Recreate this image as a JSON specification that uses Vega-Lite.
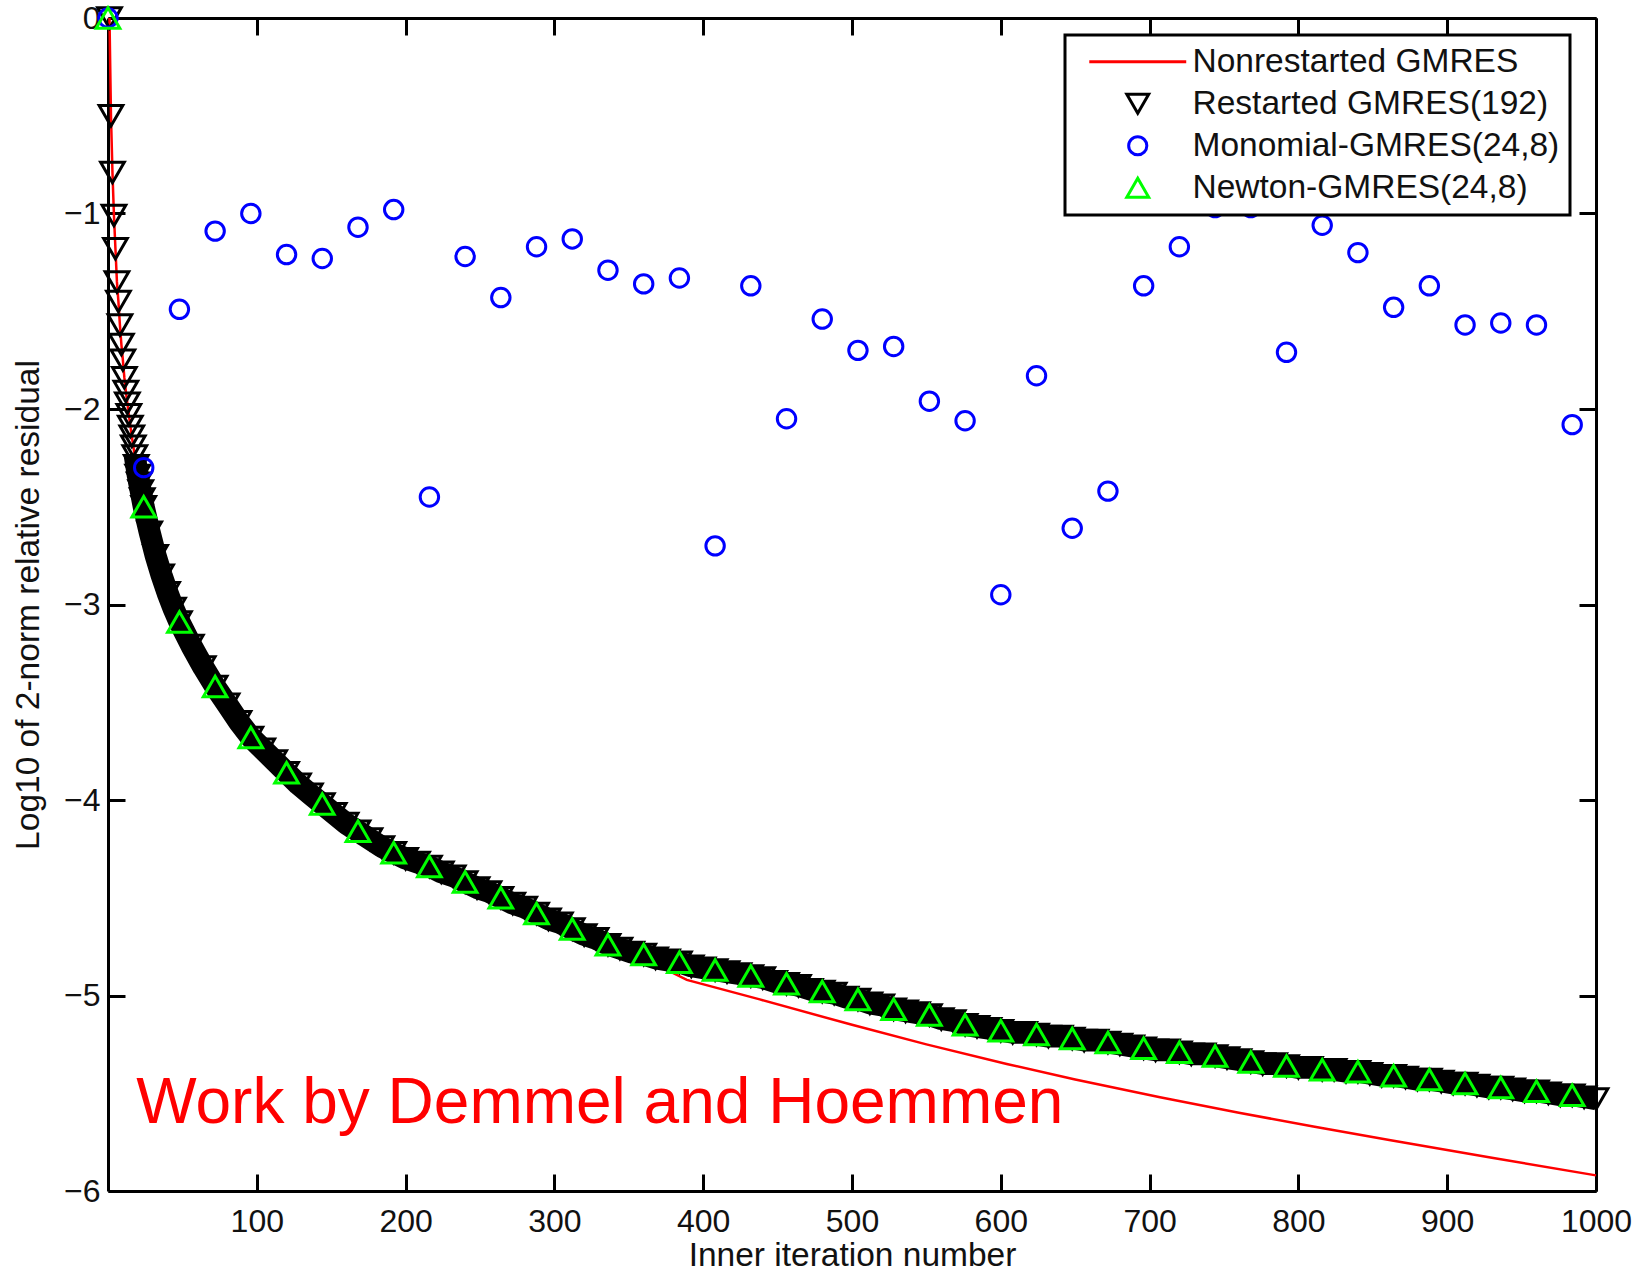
{
  "$schema": "https://vega.github.io/schema/vega-lite/v6.json",
  "width": 1488,
  "height": 1173,
  "autosize": "none",
  "padding": {"left": 108, "top": 18, "right": 49, "bottom": 84},
  "background": "white",
  "config": {
    "view": {"stroke": null},
    "font": "Liberation Sans",
    "axis": {
      "grid": false,
      "domainColor": "#000",
      "domainWidth": 3,
      "tickColor": "#000",
      "tickWidth": 3,
      "tickSize": -17,
      "labelFont": "Liberation Sans",
      "labelFontSize": 32,
      "labelColor": "#111",
      "titleFont": "Liberation Sans",
      "titleFontSize": 33.5,
      "titleFontWeight": "normal",
      "titleColor": "#111",
      "labelOverlap": false,
      "labelFlush": false,
      "labelBound": false
    }
  },
  "datasets": {
    "red": [
      {"s": "Nonrestarted GMRES", "it": 1, "res": 0},
      {"s": "Nonrestarted GMRES", "it": 2, "res": -0.5},
      {"s": "Nonrestarted GMRES", "it": 3, "res": -0.79},
      {"s": "Nonrestarted GMRES", "it": 4, "res": -1.01},
      {"s": "Nonrestarted GMRES", "it": 5, "res": -1.18},
      {"s": "Nonrestarted GMRES", "it": 6, "res": -1.35},
      {"s": "Nonrestarted GMRES", "it": 7, "res": -1.45},
      {"s": "Nonrestarted GMRES", "it": 8, "res": -1.57},
      {"s": "Nonrestarted GMRES", "it": 9, "res": -1.67},
      {"s": "Nonrestarted GMRES", "it": 10, "res": -1.75},
      {"s": "Nonrestarted GMRES", "it": 11, "res": -1.84},
      {"s": "Nonrestarted GMRES", "it": 12, "res": -1.91},
      {"s": "Nonrestarted GMRES", "it": 14, "res": -2.03},
      {"s": "Nonrestarted GMRES", "it": 16, "res": -2.14},
      {"s": "Nonrestarted GMRES", "it": 18, "res": -2.24},
      {"s": "Nonrestarted GMRES", "it": 20, "res": -2.34},
      {"s": "Nonrestarted GMRES", "it": 22, "res": -2.42},
      {"s": "Nonrestarted GMRES", "it": 24, "res": -2.5},
      {"s": "Nonrestarted GMRES", "it": 28, "res": -2.63},
      {"s": "Nonrestarted GMRES", "it": 32, "res": -2.75},
      {"s": "Nonrestarted GMRES", "it": 40, "res": -2.94},
      {"s": "Nonrestarted GMRES", "it": 48, "res": -3.09},
      {"s": "Nonrestarted GMRES", "it": 60, "res": -3.27},
      {"s": "Nonrestarted GMRES", "it": 72, "res": -3.42},
      {"s": "Nonrestarted GMRES", "it": 96, "res": -3.68},
      {"s": "Nonrestarted GMRES", "it": 120, "res": -3.86},
      {"s": "Nonrestarted GMRES", "it": 144, "res": -4.02},
      {"s": "Nonrestarted GMRES", "it": 168, "res": -4.16},
      {"s": "Nonrestarted GMRES", "it": 192, "res": -4.27},
      {"s": "Nonrestarted GMRES", "it": 216, "res": -4.34},
      {"s": "Nonrestarted GMRES", "it": 240, "res": -4.42},
      {"s": "Nonrestarted GMRES", "it": 264, "res": -4.5},
      {"s": "Nonrestarted GMRES", "it": 288, "res": -4.58},
      {"s": "Nonrestarted GMRES", "it": 312, "res": -4.66},
      {"s": "Nonrestarted GMRES", "it": 336, "res": -4.74},
      {"s": "Nonrestarted GMRES", "it": 360, "res": -4.81},
      {"s": "Nonrestarted GMRES", "it": 389, "res": -4.92},
      {"s": "Nonrestarted GMRES", "it": 438, "res": -5.02},
      {"s": "Nonrestarted GMRES", "it": 500, "res": -5.15},
      {"s": "Nonrestarted GMRES", "it": 550, "res": -5.25},
      {"s": "Nonrestarted GMRES", "it": 604, "res": -5.35},
      {"s": "Nonrestarted GMRES", "it": 650, "res": -5.43},
      {"s": "Nonrestarted GMRES", "it": 707, "res": -5.52},
      {"s": "Nonrestarted GMRES", "it": 760, "res": -5.6},
      {"s": "Nonrestarted GMRES", "it": 810, "res": -5.67},
      {"s": "Nonrestarted GMRES", "it": 862, "res": -5.74},
      {"s": "Nonrestarted GMRES", "it": 930, "res": -5.83},
      {"s": "Nonrestarted GMRES", "it": 1000, "res": -5.92}
    ],
    "black": [
      {"s": "Restarted GMRES(192)", "it": 1, "res": 0},
      {"s": "Restarted GMRES(192)", "it": 2, "res": -0.5},
      {"s": "Restarted GMRES(192)", "it": 3, "res": -0.79},
      {"s": "Restarted GMRES(192)", "it": 4, "res": -1.01},
      {"s": "Restarted GMRES(192)", "it": 5, "res": -1.18},
      {"s": "Restarted GMRES(192)", "it": 6, "res": -1.35},
      {"s": "Restarted GMRES(192)", "it": 7, "res": -1.45},
      {"s": "Restarted GMRES(192)", "it": 8, "res": -1.57},
      {"s": "Restarted GMRES(192)", "it": 9, "res": -1.67},
      {"s": "Restarted GMRES(192)", "it": 10, "res": -1.75},
      {"s": "Restarted GMRES(192)", "it": 11, "res": -1.84},
      {"s": "Restarted GMRES(192)", "it": 12, "res": -1.91},
      {"s": "Restarted GMRES(192)", "it": 13, "res": -1.97},
      {"s": "Restarted GMRES(192)", "it": 14, "res": -2.03},
      {"s": "Restarted GMRES(192)", "it": 15, "res": -2.09},
      {"s": "Restarted GMRES(192)", "it": 16, "res": -2.14},
      {"s": "Restarted GMRES(192)", "it": 17, "res": -2.19},
      {"s": "Restarted GMRES(192)", "it": 18, "res": -2.24},
      {"s": "Restarted GMRES(192)", "it": 19, "res": -2.29},
      {"s": "Restarted GMRES(192)", "it": 20, "res": -2.34},
      {"s": "Restarted GMRES(192)", "it": 21, "res": -2.38},
      {"s": "Restarted GMRES(192)", "it": 22, "res": -2.42},
      {"s": "Restarted GMRES(192)", "it": 23, "res": -2.46},
      {"s": "Restarted GMRES(192)", "it": 24, "res": -2.5},
      {"s": "Restarted GMRES(192)", "it": 28, "res": -2.63},
      {"s": "Restarted GMRES(192)", "it": 32, "res": -2.75},
      {"s": "Restarted GMRES(192)", "it": 36, "res": -2.85},
      {"s": "Restarted GMRES(192)", "it": 40, "res": -2.94},
      {"s": "Restarted GMRES(192)", "it": 44, "res": -3.02},
      {"s": "Restarted GMRES(192)", "it": 48, "res": -3.09},
      {"s": "Restarted GMRES(192)", "it": 56, "res": -3.21},
      {"s": "Restarted GMRES(192)", "it": 64, "res": -3.32},
      {"s": "Restarted GMRES(192)", "it": 72, "res": -3.42},
      {"s": "Restarted GMRES(192)", "it": 80, "res": -3.51},
      {"s": "Restarted GMRES(192)", "it": 88, "res": -3.6},
      {"s": "Restarted GMRES(192)", "it": 96, "res": -3.68},
      {"s": "Restarted GMRES(192)", "it": 104, "res": -3.74},
      {"s": "Restarted GMRES(192)", "it": 112, "res": -3.8},
      {"s": "Restarted GMRES(192)", "it": 120, "res": -3.86},
      {"s": "Restarted GMRES(192)", "it": 128, "res": -3.92},
      {"s": "Restarted GMRES(192)", "it": 136, "res": -3.97},
      {"s": "Restarted GMRES(192)", "it": 144, "res": -4.02},
      {"s": "Restarted GMRES(192)", "it": 152, "res": -4.07},
      {"s": "Restarted GMRES(192)", "it": 160, "res": -4.12},
      {"s": "Restarted GMRES(192)", "it": 168, "res": -4.16},
      {"s": "Restarted GMRES(192)", "it": 176, "res": -4.2},
      {"s": "Restarted GMRES(192)", "it": 184, "res": -4.24},
      {"s": "Restarted GMRES(192)", "it": 192, "res": -4.27},
      {"s": "Restarted GMRES(192)", "it": 200, "res": -4.3},
      {"s": "Restarted GMRES(192)", "it": 208, "res": -4.32},
      {"s": "Restarted GMRES(192)", "it": 216, "res": -4.34},
      {"s": "Restarted GMRES(192)", "it": 224, "res": -4.37},
      {"s": "Restarted GMRES(192)", "it": 232, "res": -4.39},
      {"s": "Restarted GMRES(192)", "it": 240, "res": -4.42},
      {"s": "Restarted GMRES(192)", "it": 248, "res": -4.45},
      {"s": "Restarted GMRES(192)", "it": 256, "res": -4.47},
      {"s": "Restarted GMRES(192)", "it": 264, "res": -4.5},
      {"s": "Restarted GMRES(192)", "it": 272, "res": -4.53},
      {"s": "Restarted GMRES(192)", "it": 280, "res": -4.55},
      {"s": "Restarted GMRES(192)", "it": 288, "res": -4.58},
      {"s": "Restarted GMRES(192)", "it": 296, "res": -4.61},
      {"s": "Restarted GMRES(192)", "it": 304, "res": -4.63},
      {"s": "Restarted GMRES(192)", "it": 312, "res": -4.66},
      {"s": "Restarted GMRES(192)", "it": 320, "res": -4.69},
      {"s": "Restarted GMRES(192)", "it": 328, "res": -4.71},
      {"s": "Restarted GMRES(192)", "it": 336, "res": -4.74},
      {"s": "Restarted GMRES(192)", "it": 344, "res": -4.76},
      {"s": "Restarted GMRES(192)", "it": 352, "res": -4.78},
      {"s": "Restarted GMRES(192)", "it": 360, "res": -4.79},
      {"s": "Restarted GMRES(192)", "it": 368, "res": -4.81},
      {"s": "Restarted GMRES(192)", "it": 376, "res": -4.82},
      {"s": "Restarted GMRES(192)", "it": 384, "res": -4.83},
      {"s": "Restarted GMRES(192)", "it": 392, "res": -4.85},
      {"s": "Restarted GMRES(192)", "it": 400, "res": -4.86},
      {"s": "Restarted GMRES(192)", "it": 408, "res": -4.87},
      {"s": "Restarted GMRES(192)", "it": 416, "res": -4.88},
      {"s": "Restarted GMRES(192)", "it": 424, "res": -4.89},
      {"s": "Restarted GMRES(192)", "it": 432, "res": -4.9},
      {"s": "Restarted GMRES(192)", "it": 440, "res": -4.91},
      {"s": "Restarted GMRES(192)", "it": 448, "res": -4.93},
      {"s": "Restarted GMRES(192)", "it": 456, "res": -4.94},
      {"s": "Restarted GMRES(192)", "it": 464, "res": -4.95},
      {"s": "Restarted GMRES(192)", "it": 472, "res": -4.97},
      {"s": "Restarted GMRES(192)", "it": 480, "res": -4.98},
      {"s": "Restarted GMRES(192)", "it": 488, "res": -4.99},
      {"s": "Restarted GMRES(192)", "it": 496, "res": -5.01},
      {"s": "Restarted GMRES(192)", "it": 504, "res": -5.02},
      {"s": "Restarted GMRES(192)", "it": 512, "res": -5.04},
      {"s": "Restarted GMRES(192)", "it": 520, "res": -5.05},
      {"s": "Restarted GMRES(192)", "it": 528, "res": -5.07},
      {"s": "Restarted GMRES(192)", "it": 536, "res": -5.08},
      {"s": "Restarted GMRES(192)", "it": 544, "res": -5.09},
      {"s": "Restarted GMRES(192)", "it": 552, "res": -5.1},
      {"s": "Restarted GMRES(192)", "it": 560, "res": -5.12},
      {"s": "Restarted GMRES(192)", "it": 568, "res": -5.13},
      {"s": "Restarted GMRES(192)", "it": 576, "res": -5.15},
      {"s": "Restarted GMRES(192)", "it": 584, "res": -5.16},
      {"s": "Restarted GMRES(192)", "it": 592, "res": -5.17},
      {"s": "Restarted GMRES(192)", "it": 600, "res": -5.18},
      {"s": "Restarted GMRES(192)", "it": 608, "res": -5.19},
      {"s": "Restarted GMRES(192)", "it": 616, "res": -5.19},
      {"s": "Restarted GMRES(192)", "it": 624, "res": -5.2},
      {"s": "Restarted GMRES(192)", "it": 632, "res": -5.21},
      {"s": "Restarted GMRES(192)", "it": 640, "res": -5.21},
      {"s": "Restarted GMRES(192)", "it": 648, "res": -5.22},
      {"s": "Restarted GMRES(192)", "it": 656, "res": -5.23},
      {"s": "Restarted GMRES(192)", "it": 664, "res": -5.23},
      {"s": "Restarted GMRES(192)", "it": 672, "res": -5.24},
      {"s": "Restarted GMRES(192)", "it": 680, "res": -5.25},
      {"s": "Restarted GMRES(192)", "it": 688, "res": -5.26},
      {"s": "Restarted GMRES(192)", "it": 696, "res": -5.27},
      {"s": "Restarted GMRES(192)", "it": 704, "res": -5.28},
      {"s": "Restarted GMRES(192)", "it": 712, "res": -5.28},
      {"s": "Restarted GMRES(192)", "it": 720, "res": -5.29},
      {"s": "Restarted GMRES(192)", "it": 728, "res": -5.3},
      {"s": "Restarted GMRES(192)", "it": 736, "res": -5.3},
      {"s": "Restarted GMRES(192)", "it": 744, "res": -5.31},
      {"s": "Restarted GMRES(192)", "it": 752, "res": -5.32},
      {"s": "Restarted GMRES(192)", "it": 760, "res": -5.33},
      {"s": "Restarted GMRES(192)", "it": 768, "res": -5.34},
      {"s": "Restarted GMRES(192)", "it": 776, "res": -5.35},
      {"s": "Restarted GMRES(192)", "it": 784, "res": -5.35},
      {"s": "Restarted GMRES(192)", "it": 792, "res": -5.36},
      {"s": "Restarted GMRES(192)", "it": 800, "res": -5.37},
      {"s": "Restarted GMRES(192)", "it": 808, "res": -5.37},
      {"s": "Restarted GMRES(192)", "it": 816, "res": -5.38},
      {"s": "Restarted GMRES(192)", "it": 824, "res": -5.38},
      {"s": "Restarted GMRES(192)", "it": 832, "res": -5.39},
      {"s": "Restarted GMRES(192)", "it": 840, "res": -5.39},
      {"s": "Restarted GMRES(192)", "it": 848, "res": -5.4},
      {"s": "Restarted GMRES(192)", "it": 856, "res": -5.41},
      {"s": "Restarted GMRES(192)", "it": 864, "res": -5.41},
      {"s": "Restarted GMRES(192)", "it": 872, "res": -5.42},
      {"s": "Restarted GMRES(192)", "it": 880, "res": -5.43},
      {"s": "Restarted GMRES(192)", "it": 888, "res": -5.43},
      {"s": "Restarted GMRES(192)", "it": 896, "res": -5.44},
      {"s": "Restarted GMRES(192)", "it": 904, "res": -5.45},
      {"s": "Restarted GMRES(192)", "it": 912, "res": -5.45},
      {"s": "Restarted GMRES(192)", "it": 920, "res": -5.46},
      {"s": "Restarted GMRES(192)", "it": 928, "res": -5.47},
      {"s": "Restarted GMRES(192)", "it": 936, "res": -5.47},
      {"s": "Restarted GMRES(192)", "it": 944, "res": -5.48},
      {"s": "Restarted GMRES(192)", "it": 952, "res": -5.49},
      {"s": "Restarted GMRES(192)", "it": 960, "res": -5.49},
      {"s": "Restarted GMRES(192)", "it": 968, "res": -5.5},
      {"s": "Restarted GMRES(192)", "it": 976, "res": -5.51},
      {"s": "Restarted GMRES(192)", "it": 984, "res": -5.51},
      {"s": "Restarted GMRES(192)", "it": 992, "res": -5.52},
      {"s": "Restarted GMRES(192)", "it": 1000, "res": -5.53}
    ],
    "blue": [
      {"s": "Monomial-GMRES(24,8)", "it": 0, "res": 0},
      {"s": "Monomial-GMRES(24,8)", "it": 24, "res": -2.3},
      {"s": "Monomial-GMRES(24,8)", "it": 48, "res": -1.49},
      {"s": "Monomial-GMRES(24,8)", "it": 72, "res": -1.09},
      {"s": "Monomial-GMRES(24,8)", "it": 96, "res": -1.0},
      {"s": "Monomial-GMRES(24,8)", "it": 120, "res": -1.21},
      {"s": "Monomial-GMRES(24,8)", "it": 144, "res": -1.23},
      {"s": "Monomial-GMRES(24,8)", "it": 168, "res": -1.07},
      {"s": "Monomial-GMRES(24,8)", "it": 192, "res": -0.98},
      {"s": "Monomial-GMRES(24,8)", "it": 216, "res": -2.45},
      {"s": "Monomial-GMRES(24,8)", "it": 240, "res": -1.22},
      {"s": "Monomial-GMRES(24,8)", "it": 264, "res": -1.43},
      {"s": "Monomial-GMRES(24,8)", "it": 288, "res": -1.17},
      {"s": "Monomial-GMRES(24,8)", "it": 312, "res": -1.13},
      {"s": "Monomial-GMRES(24,8)", "it": 336, "res": -1.29},
      {"s": "Monomial-GMRES(24,8)", "it": 360, "res": -1.36},
      {"s": "Monomial-GMRES(24,8)", "it": 384, "res": -1.33},
      {"s": "Monomial-GMRES(24,8)", "it": 408, "res": -2.7},
      {"s": "Monomial-GMRES(24,8)", "it": 432, "res": -1.37},
      {"s": "Monomial-GMRES(24,8)", "it": 456, "res": -2.05},
      {"s": "Monomial-GMRES(24,8)", "it": 480, "res": -1.54},
      {"s": "Monomial-GMRES(24,8)", "it": 504, "res": -1.7},
      {"s": "Monomial-GMRES(24,8)", "it": 528, "res": -1.68},
      {"s": "Monomial-GMRES(24,8)", "it": 552, "res": -1.96},
      {"s": "Monomial-GMRES(24,8)", "it": 576, "res": -2.06},
      {"s": "Monomial-GMRES(24,8)", "it": 600, "res": -2.95},
      {"s": "Monomial-GMRES(24,8)", "it": 624, "res": -1.83},
      {"s": "Monomial-GMRES(24,8)", "it": 648, "res": -2.61},
      {"s": "Monomial-GMRES(24,8)", "it": 672, "res": -2.42},
      {"s": "Monomial-GMRES(24,8)", "it": 696, "res": -1.37},
      {"s": "Monomial-GMRES(24,8)", "it": 720, "res": -1.17},
      {"s": "Monomial-GMRES(24,8)", "it": 744, "res": -0.97},
      {"s": "Monomial-GMRES(24,8)", "it": 768, "res": -0.97},
      {"s": "Monomial-GMRES(24,8)", "it": 792, "res": -1.71},
      {"s": "Monomial-GMRES(24,8)", "it": 816, "res": -1.06},
      {"s": "Monomial-GMRES(24,8)", "it": 840, "res": -1.2},
      {"s": "Monomial-GMRES(24,8)", "it": 864, "res": -1.48},
      {"s": "Monomial-GMRES(24,8)", "it": 888, "res": -1.37},
      {"s": "Monomial-GMRES(24,8)", "it": 912, "res": -1.57},
      {"s": "Monomial-GMRES(24,8)", "it": 936, "res": -1.56},
      {"s": "Monomial-GMRES(24,8)", "it": 960, "res": -1.57},
      {"s": "Monomial-GMRES(24,8)", "it": 984, "res": -2.08}
    ],
    "green": [
      {"s": "Newton-GMRES(24,8)", "it": 0, "res": 0},
      {"s": "Newton-GMRES(24,8)", "it": 24, "res": -2.5},
      {"s": "Newton-GMRES(24,8)", "it": 48, "res": -3.09},
      {"s": "Newton-GMRES(24,8)", "it": 72, "res": -3.42},
      {"s": "Newton-GMRES(24,8)", "it": 96, "res": -3.68},
      {"s": "Newton-GMRES(24,8)", "it": 120, "res": -3.86},
      {"s": "Newton-GMRES(24,8)", "it": 144, "res": -4.02},
      {"s": "Newton-GMRES(24,8)", "it": 168, "res": -4.16},
      {"s": "Newton-GMRES(24,8)", "it": 192, "res": -4.27},
      {"s": "Newton-GMRES(24,8)", "it": 216, "res": -4.34},
      {"s": "Newton-GMRES(24,8)", "it": 240, "res": -4.42},
      {"s": "Newton-GMRES(24,8)", "it": 264, "res": -4.5},
      {"s": "Newton-GMRES(24,8)", "it": 288, "res": -4.58},
      {"s": "Newton-GMRES(24,8)", "it": 312, "res": -4.66},
      {"s": "Newton-GMRES(24,8)", "it": 336, "res": -4.74},
      {"s": "Newton-GMRES(24,8)", "it": 360, "res": -4.79},
      {"s": "Newton-GMRES(24,8)", "it": 384, "res": -4.83},
      {"s": "Newton-GMRES(24,8)", "it": 408, "res": -4.87},
      {"s": "Newton-GMRES(24,8)", "it": 432, "res": -4.9},
      {"s": "Newton-GMRES(24,8)", "it": 456, "res": -4.94},
      {"s": "Newton-GMRES(24,8)", "it": 480, "res": -4.98},
      {"s": "Newton-GMRES(24,8)", "it": 504, "res": -5.02},
      {"s": "Newton-GMRES(24,8)", "it": 528, "res": -5.07},
      {"s": "Newton-GMRES(24,8)", "it": 552, "res": -5.1},
      {"s": "Newton-GMRES(24,8)", "it": 576, "res": -5.15},
      {"s": "Newton-GMRES(24,8)", "it": 600, "res": -5.18},
      {"s": "Newton-GMRES(24,8)", "it": 624, "res": -5.2},
      {"s": "Newton-GMRES(24,8)", "it": 648, "res": -5.22},
      {"s": "Newton-GMRES(24,8)", "it": 672, "res": -5.24},
      {"s": "Newton-GMRES(24,8)", "it": 696, "res": -5.27},
      {"s": "Newton-GMRES(24,8)", "it": 720, "res": -5.29},
      {"s": "Newton-GMRES(24,8)", "it": 744, "res": -5.31},
      {"s": "Newton-GMRES(24,8)", "it": 768, "res": -5.34},
      {"s": "Newton-GMRES(24,8)", "it": 792, "res": -5.36},
      {"s": "Newton-GMRES(24,8)", "it": 816, "res": -5.38},
      {"s": "Newton-GMRES(24,8)", "it": 840, "res": -5.39},
      {"s": "Newton-GMRES(24,8)", "it": 864, "res": -5.41},
      {"s": "Newton-GMRES(24,8)", "it": 888, "res": -5.43},
      {"s": "Newton-GMRES(24,8)", "it": 912, "res": -5.45},
      {"s": "Newton-GMRES(24,8)", "it": 936, "res": -5.47},
      {"s": "Newton-GMRES(24,8)", "it": 960, "res": -5.49},
      {"s": "Newton-GMRES(24,8)", "it": 984, "res": -5.51}
    ],
    "note": [
      {"label": "Work by Demmel and Hoemmen", "it": 19, "res": -5.65}
    ]
  },
  "layer": [
    {
      "data": {"name": "red"},
      "mark": {"type": "line", "strokeWidth": 2.5, "interpolate": "linear"},
      "encoding": {
        "x": {"field": "it", "type": "quantitative", "scale": {"domain": [0, 1000], "nice": false, "zero": false},
          "axis": {"orient": "bottom", "values": [100, 200, 300, 400, 500, 600, 700, 800, 900, 1000], "format": "d", "labelPadding": 32, "title": "Inner iteration number", "titleY": 74, "titleBaseline": "alphabetic"}},
        "y": {"field": "res", "type": "quantitative", "scale": {"domain": [-6, 0], "nice": false, "zero": false},
          "axis": {"orient": "left", "values": [-6, -5, -4, -3, -2, -1, 0], "labelPadding": 25, "title": "Log10 of 2-norm relative residual", "titleX": -70, "titleBaseline": "alphabetic"}},
        "color": {"field": "s", "type": "nominal",
          "scale": {"domain": ["Nonrestarted GMRES", "Restarted GMRES(192)", "Monomial-GMRES(24,8)", "Newton-GMRES(24,8)"], "range": ["#ff0000", "#000000", "#0000ff", "#00ff00"]},
          "legend": {
            "orient": "none", "legendX": 957, "legendY": 17, "title": null,
            "fillColor": "white", "strokeColor": "black", "padding": 10,
            "labelFont": "Liberation Sans", "labelFontSize": 33.5, "labelColor": "#111",
            "rowPadding": 7, "symbolSize": 400, "symbolStrokeWidth": 3,
            "symbolOffset": 46, "labelOffset": 38, "labelLimit": 600,
            "encode": {
              "symbols": {"update": {
                "shape": {"signal": "datum.value == 'Nonrestarted GMRES' ? 'stroke' : datum.value == 'Restarted GMRES(192)' ? 'triangle-down' : datum.value == 'Monomial-GMRES(24,8)' ? 'circle' : 'triangle-up'"},
                "size": {"signal": "datum.value == 'Nonrestarted GMRES' ? 9400 : datum.value == 'Monomial-GMRES(24,8)' ? 330 : 480"},
                "fill": {"value": "transparent"},
                "stroke": {"scale": "color", "field": "value"},
                "strokeWidth": {"value": 3},
                "opacity": {"value": 1}
              }},
              "legend": {"update": {"strokeWidth": {"value": 3}}}
            }
          }}
      }
    },
    {
      "data": {"name": "black"},
      "transform": [{"filter": "datum.it >= 18"}],
      "mark": {"type": "line", "strokeWidth": 22, "color": "#000", "strokeCap": "butt", "strokeJoin": "round"},
      "encoding": {
        "x": {"field": "it", "type": "quantitative", "axis": {"orient": "top", "values": [100, 200, 300, 400, 500, 600, 700, 800, 900, 1000], "labels": false, "title": null}},
        "y": {"field": "res", "type": "quantitative", "axis": {"orient": "right", "values": [-6, -5, -4, -3, -2, -1, 0], "labels": false, "title": null}}
      }
    },
    {
      "data": {"name": "black"},
      "mark": {"type": "point", "shape": "triangle-down", "filled": false, "strokeWidth": 3, "size": 560, "opacity": 1},
      "encoding": {
        "x": {"field": "it", "type": "quantitative", "axis": null},
        "y": {"field": "res", "type": "quantitative", "axis": null},
        "color": {"field": "s", "type": "nominal"}
      }
    },
    {
      "data": {"name": "blue"},
      "mark": {"type": "point", "shape": "circle", "filled": false, "strokeWidth": 3, "size": 340, "opacity": 1},
      "encoding": {
        "x": {"field": "it", "type": "quantitative", "axis": null},
        "y": {"field": "res", "type": "quantitative", "axis": null},
        "color": {"field": "s", "type": "nominal"}
      }
    },
    {
      "data": {"name": "green"},
      "mark": {"type": "point", "shape": "triangle-up", "filled": false, "strokeWidth": 3, "size": 560, "opacity": 1},
      "encoding": {
        "x": {"field": "it", "type": "quantitative", "axis": null},
        "y": {"field": "res", "type": "quantitative", "axis": null},
        "color": {"field": "s", "type": "nominal"}
      }
    },
    {
      "data": {"name": "note"},
      "mark": {"type": "text", "align": "left", "baseline": "alphabetic", "fontSize": 64, "font": "Liberation Sans", "color": "#ff0000"},
      "encoding": {
        "x": {"field": "it", "type": "quantitative", "axis": null},
        "y": {"field": "res", "type": "quantitative", "axis": null},
        "text": {"field": "label"}
      }
    }
  ]
}
